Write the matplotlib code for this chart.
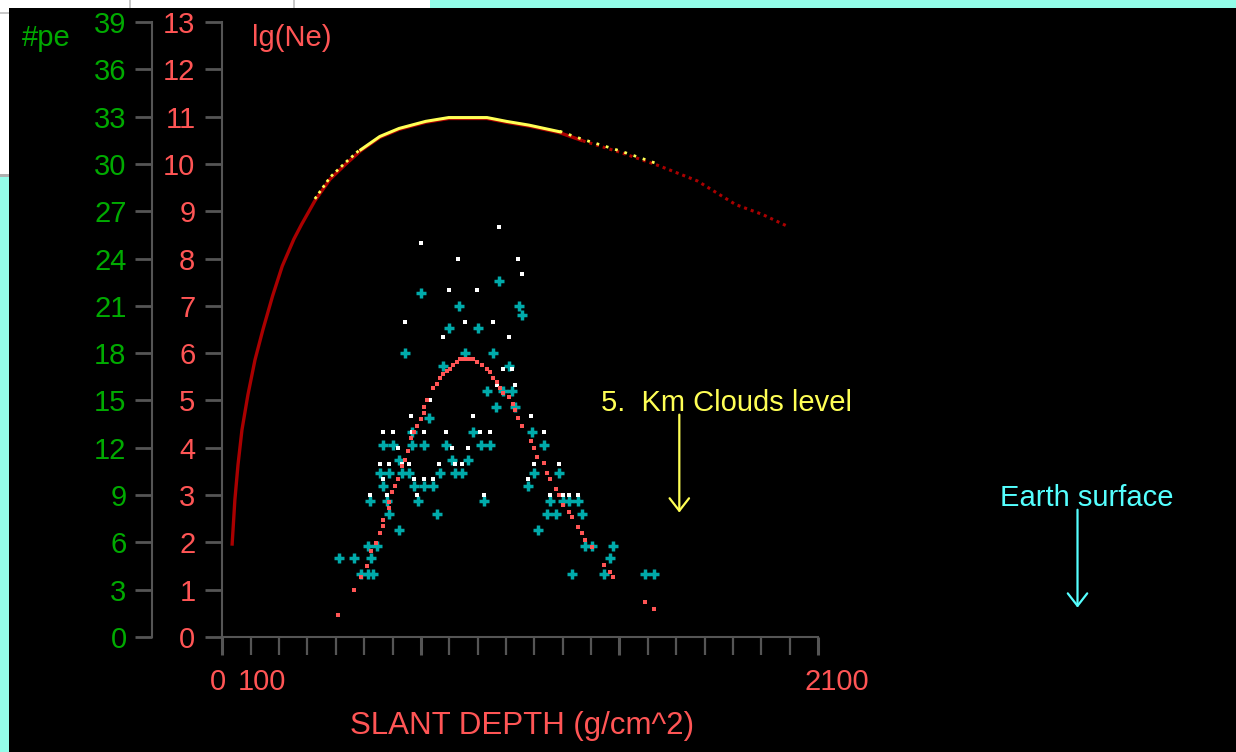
import numpy as np
import matplotlib
matplotlib.use("Agg")
import matplotlib.pyplot as plt
import matplotlib.patches as mpatches
import matplotlib.transforms as transforms

plt.rcParams['font.family'] = ['Liberation Sans', 'DejaVu Sans']

# ---- values ----
# shower size profile: lg(Ne) against slant depth (g/cm^2)
ne_depth = np.array([34, 44, 55, 69, 90, 115, 143, 177, 211, 252, 279, 326, 380, 434, 488,
                     555, 623, 717, 798, 933, 1001, 1081, 1189, 1270, 1405, 1540, 1675, 1810,
                     1905, 1993])
ne_lg = np.array([1.93, 2.90, 3.64, 4.38, 5.12, 5.86, 6.50, 7.21, 7.84, 8.41, 8.72, 9.22, 9.68,
                  9.99, 10.28, 10.56, 10.73, 10.88, 10.96, 10.96, 10.88, 10.80, 10.66, 10.49,
                  10.24, 9.96, 9.64, 9.14, 8.93, 8.68])

# fitted #pe profile (red dots)
fit_depth = [409, 465, 488, 511, 523, 542, 556, 567, 567, 588, 588, 599, 610, 620, 632, 644,
             655, 665, 677, 687, 700, 712, 712, 722, 744, 756, 767, 779, 791, 803, 814, 826,
             838, 850, 861, 873, 885, 899, 914, 934, 945, 955, 967, 979, 990, 1012, 1024,
             1033, 1043, 1055, 1088, 1100, 1110, 1135, 1146, 1155, 1177, 1188, 1200, 1223,
             1234, 1255, 1268, 1280, 1302, 1344, 1368, 1378, 1491, 1523]
fit_pe = [1.41, 2.97, 3.78, 4.53, 5.43, 5.94, 6.60, 7.02, 7.44, 8.16, 8.58, 9.18, 9.57, 10.02,
          10.83, 11.25, 11.79, 12.63, 12.99, 13.41, 13.83, 14.22, 14.58, 15.0, 15.81, 16.02,
          16.44, 16.65, 16.86, 17.01, 17.22, 17.43, 17.64, 17.64, 17.64, 17.64, 17.64, 17.43,
          17.22, 17.01, 16.80, 16.44, 16.17, 15.81, 15.45, 15.24, 14.79, 14.37, 13.86, 13.41,
          12.42, 12.0, 11.4, 11.04, 10.41, 10.02, 9.39, 9.03, 8.37, 7.95, 7.59, 6.96, 6.60,
          6.15, 5.73, 4.56, 4.14, 3.78, 2.19, 1.77]

# reconstructed #pe (cyan crosses)
rec_depth = [975, 700, 833, 1046, 1056, 800, 901, 644, 855, 955, 778, 1012, 934, 988, 1022,
             966, 1033, 728,
             667, 883, 1091,
             567, 603, 667, 712, 789, 912, 945, 1135,
             623, 811, 867,
             556, 589, 632, 657, 767, 821, 845, 1100, 1188,
             565, 677, 712, 744, 1079,
             522, 579, 690, 922, 1156, 1200, 1223, 1255,
             589, 756, 1146, 1177, 1268,
             623, 1112,
             512, 545, 1279, 1302, 1378,
             411, 465, 523, 1368,
             488, 512, 532, 1234, 1346, 1490, 1522]
rec_pe = [22.6, 21.8, 21.0, 21.0, 20.4, 19.6, 19.6, 18.0, 18.0, 18.0, 17.2, 17.2, 15.6, 15.6,
          15.6, 14.6, 14.6, 13.9,
          13.0, 13.0, 13.0,
          12.2, 12.2, 12.2, 12.2, 12.2, 12.2, 12.2, 12.2,
          11.2, 11.2, 11.2,
          10.4, 10.4, 10.4, 10.4, 10.4, 10.4, 10.4, 10.4, 10.4,
          9.6, 9.6, 9.6, 9.6, 9.6,
          8.6, 8.6, 8.6, 8.6, 8.6, 8.6, 8.6, 8.6,
          7.8, 7.8, 7.8, 7.8, 7.8,
          6.8, 6.8,
          5.8, 5.8, 5.8, 5.8, 5.8,
          5.0, 5.0, 5.0, 5.0,
          4.0, 4.0, 4.0, 4.0, 4.0, 4.0, 4.0]

# measured #pe (white dots)
obs_depth = [976, 700, 832, 1043, 1056, 800, 899, 645, 856, 955, 778, 1012, 988, 1022, 967,
             1033, 732, 666, 883, 1089,
             567, 603, 667, 712, 789, 909, 945, 1135,
             620, 811, 867,
             556, 589, 632, 657, 765, 821, 845, 1100, 1188,
             567, 677, 712, 744, 1079,
             522, 579, 687, 923, 1156, 1200, 1223, 1255]
obs_pe = [26, 25, 24, 24, 23, 22, 22, 20, 20, 20, 19, 19, 17, 17, 16, 16, 15, 14, 14, 14,
          13, 13, 13, 13, 13, 13, 13, 13,
          12, 12, 12,
          11, 11, 11, 11, 11, 11, 11, 11, 11,
          10, 10, 10, 10, 10,
          9, 9, 9, 9, 9, 9, 9, 9]

lg_ticks = list(range(0, 14))
pe_ticks = list(range(0, 40, 3))
x_label_pos = [0, 100, 2100]
x_labels = ['0', '100', '2100']

clouds_depth = 1611      # 5 km clouds level
ground_depth = 3015      # earth surface

# EGA palette
GREEN = '#00AA00'
LRED = '#FF5555'
DRED = '#AA0000'
YEL = '#FFFF55'
LCYAN = '#55FFFF'
CYAN = '#00AAAA'
GRAY = '#555555'

W, H = 1236, 752
fig = plt.figure(figsize=(W / 100, H / 100), dpi=100, facecolor='black')


def px_rect(x0, y0, x1, y1, color):
    fig.add_artist(mpatches.Rectangle((x0 / W, 1 - y1 / H), (x1 - x0) / W, (y1 - y0) / H,
                                      transform=fig.transFigure, facecolor=color,
                                      edgecolor='none', zorder=0))


# window chrome around the black screen
px_rect(0, 0, 430, 8, 'white')
px_rect(430, 0, W, 8, '#93fde9')
px_rect(129, 0, 131, 8, '#c8c8c8')
px_rect(293, 0, 295, 8, '#c8c8c8')
px_rect(0, 0, 9, 175, 'white')
px_rect(0, 12, 9, 14, '#c8c8c8')
px_rect(0, 174, 9, 177, '#b0b0b0')
px_rect(0, 177, 9, H, '#93fde9')

ax = fig.add_axes([222.4 / W, 1 - 637 / H, (818 - 222.4) / W, (637 - 22) / H])
ax.set_facecolor('none')
ax.set_xlim(0, 2100)
ax.set_ylim(0, 13)
for s in ['top', 'right']:
    ax.spines[s].set_visible(False)
for s in ['left', 'bottom']:
    ax.spines[s].set_color(GRAY)
    ax.spines[s].set_linewidth(1.5)

ax.set_yticks(lg_ticks)
ax.set_yticklabels([str(v) for v in lg_ticks])
ax.tick_params(axis='y', direction='out', length=12.2, width=2, color=GRAY,
               labelcolor=LRED, labelsize=21, pad=7.2)
ax.set_xticks(range(0, 2101, 700))
ax.set_xticks(range(0, 2101, 100), minor=True)
ax.tick_params(axis='x', which='both', direction='out', length=13, color=GRAY,
               labelbottom=False)
ax.tick_params(axis='x', which='major', width=2.2)
ax.tick_params(axis='x', which='minor', width=1.6)

lab_tr = transforms.offset_copy(ax.get_xaxis_transform(), fig=fig, x=-13, y=-53, units='dots')
for v, t in zip(x_label_pos, x_labels):
    ax.text(v, 0, t, transform=lab_tr, ha='left', va='baseline', color=LRED, fontsize=21)

# second (#pe) axis, offset to the left
ax2 = ax.twinx()
ax2.set_ylim(0, 39)
ax2.yaxis.set_ticks_position('left')
ax2.spines['left'].set_position(('axes', -70.4 / (818 - 222.4)))
for s in ['top', 'right', 'bottom']:
    ax2.spines[s].set_visible(False)
ax2.spines['left'].set_color(GRAY)
ax2.spines['left'].set_linewidth(1.5)
ax2.set_yticks(pe_ticks)
ax2.set_yticklabels([str(v) for v in pe_ticks])
ax2.tick_params(axis='y', direction='out', length=12.2, width=2, color=GRAY,
                labelcolor=GREEN, labelsize=21, pad=6.1)

# shower size curve: dark red everywhere, yellow over the maximum
solid = ne_depth <= 1300
ax.plot(ne_depth[solid], ne_lg[solid], color=DRED, lw=2.4, solid_capstyle='butt')
ax.plot(ne_depth[ne_depth >= 1270], ne_lg[ne_depth >= 1270], color=DRED, lw=2.2,
        linestyle=(0, (1, 1.3)))
ymid = (ne_depth >= 488) & (ne_depth <= 1189)
ax.plot(ne_depth[ymid], ne_lg[ymid] + 0.02, color=YEL, lw=2.2)
yl = (ne_depth >= 326) & (ne_depth <= 488)
ax.plot(ne_depth[yl], ne_lg[yl] + 0.04, color=YEL, lw=2.0, linestyle=(0, (1, 1.5)))
yr = (ne_depth >= 1189) & (ne_depth <= 1540)
ax.plot(ne_depth[yr], ne_lg[yr] + 0.03, color=YEL, lw=2.0, linestyle=(0, (1, 2.5)))

# photoelectron points
ax2.plot(rec_depth, rec_pe, linestyle='none', marker='+', markersize=7.6,
         markeredgewidth=2.5, color=CYAN)
ax2.plot(obs_depth, obs_pe, linestyle='none', marker='s', markersize=2.6,
         markeredgewidth=0, color='white')
ax2.plot(fit_depth, fit_pe, linestyle='none', marker='s', markersize=2.5,
         markeredgewidth=0, color=LRED)

# level markers
ax.annotate('', xy=(clouds_depth, 2.63), xytext=(clouds_depth, 4.70),
            arrowprops=dict(arrowstyle='->,head_length=0.45,head_width=0.35', color=YEL,
                            lw=1.6, mutation_scale=20, shrinkA=0, shrinkB=0),
            annotation_clip=False)
ax.text(1335, 4.77, '5.  Km Clouds level', color=YEL, fontsize=21, ha='left', va='baseline')
ax.annotate('', xy=(ground_depth, 0.62), xytext=(ground_depth, 2.69),
            arrowprops=dict(arrowstyle='->,head_length=0.45,head_width=0.35', color=LCYAN,
                            lw=1.6, mutation_scale=20, shrinkA=0, shrinkB=0),
            annotation_clip=False)
ax.text(2742, 2.76, 'Earth surface', color=LCYAN, fontsize=21, ha='left', va='baseline')

# axis titles
fig.text(22 / W, 1 - 46 / H, '#pe', color=GREEN, fontsize=21, ha='left', va='baseline')
fig.text(252 / W, 1 - 46 / H, 'lg(Ne)', color=LRED, fontsize=21, ha='left', va='baseline')
fig.text(522 / W, 1 - 734 / H, 'SLANT DEPTH (g/cm^2)', color=LRED, fontsize=22.5,
         ha='center', va='baseline')

fig.savefig('out.png', dpi=100, facecolor=fig.get_facecolor())
